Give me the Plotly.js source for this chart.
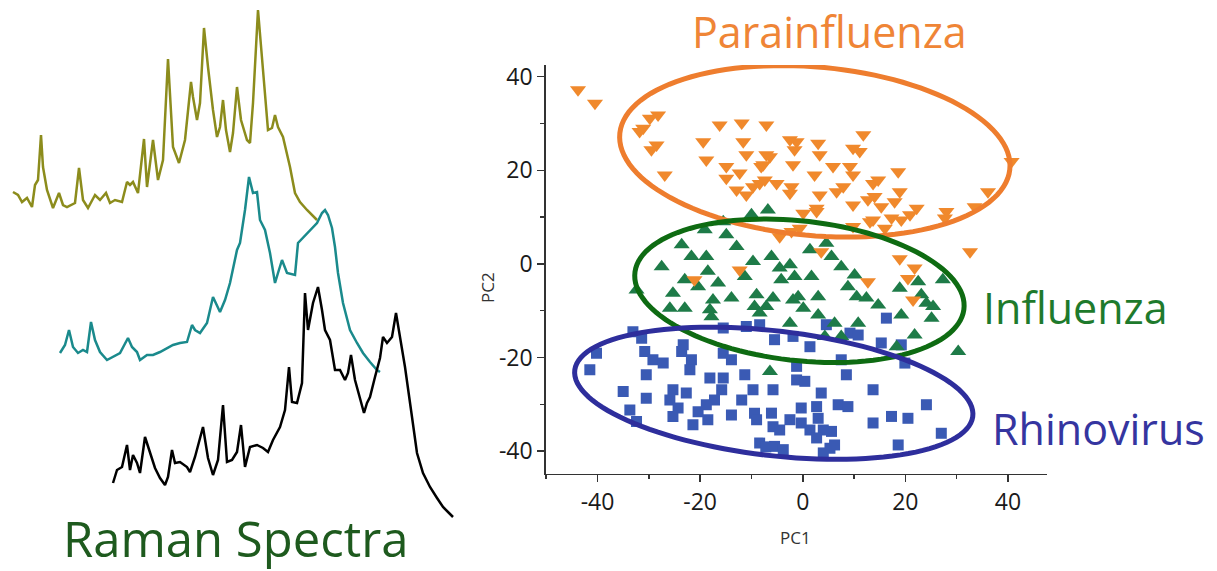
<!DOCTYPE html>
<html>
<head>
<meta charset="utf-8">
<script src="https://cdn.plot.ly/plotly-3.0.1.min.js"></script>
<style>html,body{margin:0;padding:0;background:#fff;}#chart{width:1217px;height:571px;}</style>
</head>
<body>
<div id="chart"></div>
<script>
// ---- Raman spectra (arbitrary shift / intensity units) ----
var olive_shift = [13,18,22,27,32,35,38,41,43,47,53,59,63,67,75,79,83,88,95,100,106,110,115,122,127,130,133,138,144,147,153,158,163,168,173,179,185,191,193,197,200,204,208,213,217,220,223,226,230,233,237,241,247,250,253,258,263,268,272,275,278,283,290,295,300,307,317];
var olive_int = [379,376,369,373,364,386,391,436,404,381,363,378,366,364,368,403,371,363,376,371,378,368,371,369,389,386,389,378,432,384,431,391,411,512,424,408,431,489,474,451,468,543,504,461,434,444,471,441,419,438,484,451,431,428,468,561,501,441,443,456,444,434,404,378,369,361,351];

var teal_shift = [60,65,69,73,78,83,87,91,95,100,107,113,120,128,132,137,140,147,153,160,167,173,180,187,192,195,200,207,213,220,225,230,237,240,245,249,253,257,260,265,270,275,278,282,287,295,298,303,308,313,317,322,325,328,332,335,338,343,350,357,363,370,377,380];
var teal_int = [218,226,241,224,218,221,219,249,231,219,211,214,218,233,224,219,211,216,216,219,223,226,228,229,246,241,238,248,274,259,271,288,321,328,361,394,378,379,351,341,318,288,298,311,298,296,328,333,338,343,348,358,361,356,343,324,298,268,241,228,218,209,201,199];

var black_shift = [113,117,122,127,130,133,137,140,145,150,155,160,165,168,172,175,180,187,190,195,203,208,213,218,223,227,232,237,241,245,250,257,263,268,273,280,285,289,292,297,302,305,308,313,318,322,325,330,335,340,345,348,351,355,360,364,367,370,375,380,383,387,392,396,400,405,412,417,423,430,437,443,448,453];
var black_int = [88,101,104,126,101,116,108,98,134,119,103,93,86,94,121,108,109,104,99,114,144,113,96,111,166,109,111,119,146,104,124,126,123,119,131,144,161,204,169,168,188,278,241,268,284,261,241,231,201,201,191,198,216,191,174,158,168,174,194,213,234,228,234,258,234,204,154,118,98,84,73,64,59,54];

// ---- PCA scores ----
var para_pc1 = [-43.8,-40.5,-28.2,-29.8,-31.1,-31.8,-28.5,-29.5,-26.9,-16.2,-11.9,-7.1,-19.4,-11.6,-11.0,-7.1,-18.8,-14.9,-12.3,-14.9,-8.1,-8.4,-12.9,-11.0,-9.7,-5.1,-2.5,-1.2,-1.6,3.0,3.3,11.8,9.8,11.1,-6.4,-7.7,-1.9,2.3,5.9,9.2,9.8,18.6,40.7,36.1,33.5,28.0,27.7,22.2,20.9,18.9,17.9,17.3,16.0,13.7,15.3,14.0,12.7,13.7,14.7,9.8,6.6,7.9,3.3,2.7,0.1,-2.2,-2.5,-7.4,9.8,-0.6,-4.5,3.6,32.6,18.9,2.7,13.1,19.2,21.8,20.5,12.7,21.5,-21.1,-12.3,-2.2];
var para_pc2 = [37.2,34.3,31.8,31.1,29.0,28.3,25.4,24.4,19.0,29.7,30.1,29.7,26.1,26.1,23.3,23.3,22.2,20.8,19.4,18.3,20.8,17.2,15.8,14.7,16.5,17.2,26.5,26.1,24.4,25.8,23.3,27.6,24.7,24.0,22.9,21.2,21.2,19.0,20.8,20.8,19.0,19.7,21.9,15.4,12.2,11.2,9.8,11.9,10.5,15.4,13.3,9.8,7.6,9.4,12.2,14.4,13.7,17.2,17.9,12.6,15.4,16.5,14.7,11.9,10.8,16.5,15.1,17.9,8.0,7.6,5.8,2.6,2.6,1.1,11.2,9.0,9.4,-0.9,-3.1,-3.8,-7.7,-3.4,-1.3,6.9];

var infl_pc1 = [-6.8,-10.0,-15.5,-19.1,-14.9,-12.9,-23.6,-21.7,-18.8,-27.5,-23.0,-20.4,-18.5,-16.5,-9.7,-11.3,-6.1,-4.5,-2.5,-1.6,-4.2,-25.3,-25.9,-23.0,-17.5,-18.1,-17.8,-13.9,-9.0,-9.4,-8.4,-5.8,-7.1,-2.5,-1.9,-32.4,-6.4,1.4,4.6,5.6,7.5,1.7,10.1,8.8,3.0,-0.9,0.1,3.0,10.5,12.4,14.7,18.9,22.5,23.1,24.1,25.4,25.1,19.2,21.8,10.8,6.2,27.3,30.3,7.5,4.3,18.3];
var infl_pc2 = [11.5,10.5,9.0,7.3,6.2,3.7,4.1,1.6,1.6,-0.6,-3.4,-4.9,-1.6,-4.1,0.5,-2.7,1.6,-0.9,-0.2,-2.7,-3.4,-6.3,-9.5,-9.5,-7.7,-9.8,-11.3,-7.3,-6.6,-9.1,-10.5,-7.3,-9.1,-12.7,-7.7,-5.6,-23.0,3.0,4.4,1.6,-0.6,-2.7,-2.4,-4.9,-7.0,-7.0,-9.5,-10.9,-7.0,-7.3,-8.8,-5.2,-3.8,-6.6,-8.4,-9.1,-11.6,-10.9,-15.2,-12.7,-12.7,-3.4,-18.7,-15.5,-15.5,-17.7];

var rhino_pc1 = [-33.1,-31.4,-41.5,-40.2,-30.8,-29.2,-27.2,-23.3,-23.6,-21.7,-22.0,-30.5,-35.0,-30.5,-25.3,-22.7,-25.9,-24.3,-25.3,-33.7,-32.4,-21.4,-20.4,-18.8,-18.5,-18.1,-15.5,-15.8,-17.2,-15.5,-13.9,-11.9,-13.9,-11.3,-9.7,-9.4,-9.0,-6.1,-5.8,-5.8,-8.4,-5.5,-2.5,-1.2,-11.0,-8.4,-5.5,-15.5,-1.9,1.4,9.2,10.8,15.3,19.2,19.9,7.5,8.5,-1.2,0.4,3.6,13.7,6.9,8.8,24.1,2.7,-0.3,-0.3,1.4,3.0,4.0,5.6,2.7,5.3,6.2,4.0,13.7,17.3,20.5,27.0,18.6,-3.8,-4.5,-7.2,16.3,4.6];
var rhino_pc2 = [-14.5,-15.9,-22.6,-19.1,-18.7,-20.5,-21.2,-17.3,-18.7,-20.5,-22.6,-23.7,-27.3,-28.7,-26.9,-27.6,-29.1,-30.8,-32.6,-31.2,-33.7,-34.4,-31.6,-30.1,-33.3,-24.4,-24.4,-26.9,-29.1,-19.1,-20.5,-29.1,-32.3,-23.7,-26.9,-31.9,-33.3,-31.9,-26.9,-34.8,-38.3,-39.0,-33.3,-24.8,-13.4,-13.0,-16.2,-13.7,-15.5,-17.7,-14.8,-15.2,-16.9,-17.3,-21.2,-20.5,-23.7,-21.9,-25.1,-27.6,-26.9,-30.1,-30.5,-30.1,-30.5,-30.8,-34.0,-35.5,-33.0,-35.5,-35.8,-37.2,-39.4,-38.7,-40.4,-34.0,-32.6,-33.0,-36.2,-38.7,-39.7,-35.5,-39.1,-11.6,-13.0];

var group_names = ["Parainfluenza", "Influenza", "Rhinovirus"];
var panel_title = "Raman Spectra";

// ---- tick labels ----
var pc1_tick_vals = [-40, -20, 0, 20, 40];
var pc1_tick_labels = ["-40", "-20", "0", "20", "40"];
var pc2_tick_vals = [-40, -20, 0, 20, 40];
var pc2_tick_labels = ["-40", "-20", "0", "20", "40"];

// ---- confidence ellipses (centre, semi-axes, tilt in degrees) ----
var ellipses = [
  {cx: 2.35,  cy: 24.05,  a: 38.2, b: 18.0, rot: -5.9, color: "#EE7D2E"},
  {cx: -0.65, cy: -5.75,  a: 32.3, b: 14.9, rot: -7.2, color: "#0E6B12"},
  {cx: -5.65, cy: -27.65, a: 39.1, b: 13.3, rot: -7.4, color: "#2E2E9C"}
];

function ellipsePath(e) {
  var th = e.rot * Math.PI / 180, n = 120, p = "";
  for (var i = 0; i <= n; i++) {
    var t = 2 * Math.PI * i / n;
    var x = e.cx + e.a * Math.cos(th) * Math.cos(t) - e.b * Math.sin(th) * Math.sin(t);
    var y = e.cy + e.a * Math.sin(th) * Math.cos(t) + e.b * Math.cos(th) * Math.sin(t);
    p += (i === 0 ? "M" : "L") + x.toFixed(3) + "," + y.toFixed(3);
  }
  return p + "Z";
}

var FONT = "Open Sans, Liberation Sans, sans-serif";

var traces = [
  {x: olive_shift, y: olive_int, xaxis: "x2", yaxis: "y2", mode: "lines", line: {color: "#8C8C1C", width: 2.5}, hoverinfo: "skip"},
  {x: teal_shift,  y: teal_int,  xaxis: "x2", yaxis: "y2", mode: "lines", line: {color: "#1A8A8C", width: 2.5}, hoverinfo: "skip"},
  {x: black_shift, y: black_int, xaxis: "x2", yaxis: "y2", mode: "lines", line: {color: "#000000", width: 2.5}, hoverinfo: "skip"},
  {x: rhino_pc1, y: rhino_pc2, name: group_names[2], mode: "markers", type: "scatter",
   marker: {symbol: "square", size: 11, color: "#3A5AB4", line: {width: 0}}},
  {x: infl_pc1, y: infl_pc2, name: group_names[1], mode: "markers", type: "scatter",
   marker: {symbol: "triangle-up", size: 14, color: "#1E7B48", line: {width: 0}}},
  {x: para_pc1, y: para_pc2, name: group_names[0], mode: "markers", type: "scatter",
   marker: {symbol: "triangle-down", size: 14, color: "#F0892C", line: {width: 0}}}
];

var shapes = ellipses.map(function (e) {
  return {type: "path", xref: "x", yref: "y", path: ellipsePath(e), line: {color: e.color, width: 5}, fillcolor: "rgba(0,0,0,0)", layer: "above"};
});

var axisCommon = {
  showgrid: false, zeroline: false, showline: true, linecolor: "#333", linewidth: 1.5,
  ticks: "outside", ticklen: 7, tickwidth: 1.5, tickcolor: "#333", tickmode: "array",
  minor: {ticks: "outside", ticklen: 4, tickwidth: 1.5, tickcolor: "#333", dtick: 10, tick0: 0},
  tickfont: {family: FONT, size: 23, color: "#1a1a1a"}, automargin: false, fixedrange: true
};

var layout = {
  width: 1217, height: 571,
  margin: {l: 0, r: 0, t: 0, b: 0},
  paper_bgcolor: "#fff", plot_bgcolor: "rgba(0,0,0,0)",
  showlegend: false,
  xaxis: Object.assign({}, axisCommon, {domain: [0.4484, 0.8603], range: [-50.1, 47.6], anchor: "y", tickvals: pc1_tick_vals, ticktext: pc1_tick_labels}),
  yaxis: Object.assign({}, axisCommon, {domain: [0.1699, 0.8862], range: [-44.9, 42.5], anchor: "x", tickvals: pc2_tick_vals, ticktext: pc2_tick_labels}),
  xaxis2: {domain: [0, 0.3862], range: [0, 470], visible: false, anchor: "y2", fixedrange: true},
  yaxis2: {domain: [0, 1], range: [0, 571], visible: false, anchor: "x2", fixedrange: true},
  shapes: shapes,
  annotations: [
    {text: group_names[0], xref: "paper", yref: "paper", x: 0.6812, y: 0.9448, xanchor: "center", yanchor: "middle", showarrow: false, font: {family: FONT, size: 43, color: "#EF8536"}},
    {text: group_names[1], xref: "paper", yref: "paper", x: 0.884, y: 0.4606, xanchor: "center", yanchor: "middle", showarrow: false, font: {family: FONT, size: 43, color: "#1E7A2C"}},
    {text: group_names[2], xref: "paper", yref: "paper", x: 0.9026, y: 0.2487, xanchor: "center", yanchor: "middle", showarrow: false, font: {family: FONT, size: 43, color: "#3535A0"}},
    {text: panel_title, xref: "paper", yref: "paper", x: 0.1939, y: 0.058, xanchor: "center", yanchor: "middle", showarrow: false, font: {family: FONT, size: 49, color: "#1E5A1E"}},
    {text: "PC1", xref: "paper", yref: "paper", x: 0.654, y: 0.058, xanchor: "center", yanchor: "middle", showarrow: false, font: {family: FONT, size: 17, color: "#333"}},
    {text: "PC2", xref: "paper", yref: "paper", x: 0.4002, y: 0.4956, xanchor: "center", yanchor: "middle", showarrow: false, textangle: -90, font: {family: FONT, size: 17, color: "#333"}}
  ]
};

Plotly.newPlot("chart", traces, layout, {displayModeBar: false, staticPlot: true});
</script>
</body>
</html>
